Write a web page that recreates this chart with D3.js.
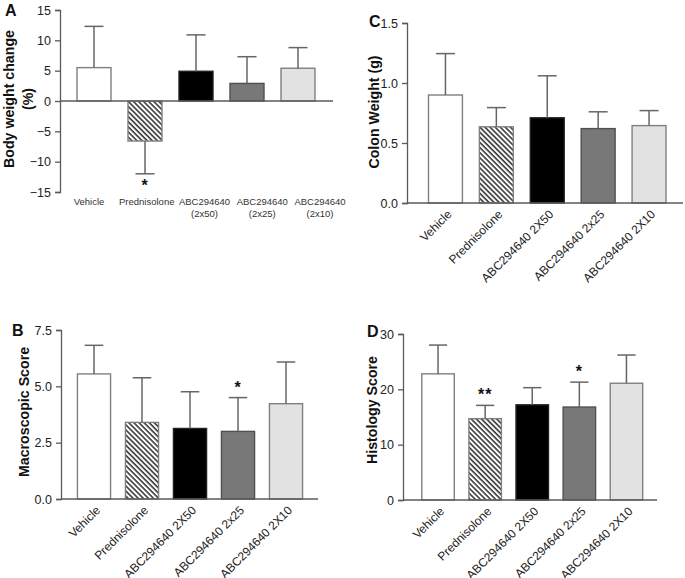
<!DOCTYPE html>
<html><head><meta charset="utf-8">
<script src="https://cdn.jsdelivr.net/npm/d3@7/dist/d3.min.js"></script>
<style>
body{margin:0;background:#fff;}
svg{display:block;font-family:"Liberation Sans",Arial,sans-serif;}
</style></head>
<body>
<svg id="chart" width="685" height="578"></svg>
<script>
// ---------- data ----------
const categories = ["Vehicle", "Prednisolone", "ABC294640 2X50", "ABC294640 2x25", "ABC294640 2X10"];
const labelsA = [["Vehicle"], ["Prednisolone"], ["ABC294640", "(2x50)"], ["ABC294640", "(2x25)"], ["ABC294640", "(2x10)"]];
const labelsRot = ["Vehicle", "Prednisolone", "ABC294640 2X50", "ABC294640 2x25", "ABC294640 2X10"];

const bodyWeightMean = [5.5, -6.6, 4.9, 2.9, 5.4];
const bodyWeightErr  = [12.3, -12.0, 10.9, 7.3, 8.8];
const bodyWeightSig  = ["", "*", "", "", ""];
const bodyWeightTicks = [-15, -10, -5, 0, 5, 10, 15];

const colonMean = [0.90, 0.635, 0.71, 0.62, 0.645];
const colonErr  = [1.245, 0.795, 1.06, 0.76, 0.77];
const colonSig  = ["", "", "", "", ""];
const colonTicks = [0, 0.5, 1.0, 1.5];

const macroMean = [5.55, 3.40, 3.13, 3.00, 4.23];
const macroErr  = [6.82, 5.38, 4.76, 4.50, 6.08];
const macroSig  = ["", "", "", "*", ""];
const macroTicks = [0, 2.5, 5.0, 7.5];

const histoMean = [22.8, 14.7, 17.2, 16.8, 21.1];
const histoErr  = [28.0, 17.1, 20.3, 21.3, 26.2];
const histoSig  = ["", "**", "", "*", ""];
const histoTicks = [0, 10, 20, 30];

// ---------- styles ----------
const fills = ["#ffffff", "url(#hatch)", "#000000", "#787878", "#e2e2e2"];
const strokes = ["#808080", "#808080", "#222222", "#505050", "#808080"];
const axisColor = "#5a5a5a";
const errColor = "#666666";

const svg = d3.select("#chart");
const defs = svg.append("defs");
const pat = defs.append("pattern").attr("id", "hatch").attr("patternUnits", "userSpaceOnUse")
  .attr("width", 3.6).attr("height", 3.6).attr("patternTransform", "rotate(-45)");
pat.append("rect").attr("width", 3.6).attr("height", 3.6).attr("fill", "#fff");
pat.append("line").attr("x1", 1).attr("y1", 0).attr("x2", 1).attr("y2", 3.6)
  .attr("stroke", "#2a2a2a").attr("stroke-width", 1.5);

function panel(cfg) {
  const g = svg.append("g");
  const y = d3.scaleLinear().domain(cfg.domain).range(cfg.yRange);
  const x = d3.scaleBand().domain(categories).range(cfg.xRange)
    .paddingInner(cfg.padIn).paddingOuter(cfg.padIn / 2);

  // y axis
  const ax = g.append("g").attr("transform", `translate(${cfg.axisX},0)`)
    .call(d3.axisLeft(y).tickValues(cfg.ticks).tickFormat(cfg.fmt).tickSize(5).tickPadding(4));
  ax.select(".domain").attr("stroke", axisColor).attr("stroke-width", 1.3);
  ax.selectAll(".tick line").attr("stroke", axisColor).attr("stroke-width", 1.3);
  ax.selectAll(".tick text").attr("fill", "#222").style("font-size", "12.5px")
    .style("font-family", "Liberation Sans, Arial, sans-serif");

  // bars
  const bw = x.bandwidth();
  g.selectAll("rect.bar").data(cfg.mean).join("rect").attr("class", "bar")
    .attr("x", (d, i) => x(categories[i]))
    .attr("y", d => y(Math.max(0, d)))
    .attr("width", bw)
    .attr("height", d => Math.abs(y(d) - y(0)))
    .attr("fill", (d, i) => fills[i])
    .attr("stroke", (d, i) => strokes[i]).attr("stroke-width", 1.4);

  // error bars
  const cap = bw * 0.28;
  cfg.err.forEach((e, i) => {
    const cx = x(categories[i]) + bw / 2;
    g.append("line").attr("x1", cx).attr("x2", cx).attr("y1", y(cfg.mean[i])).attr("y2", y(e))
      .attr("stroke", errColor).attr("stroke-width", 1.5);
    g.append("line").attr("x1", cx - cap).attr("x2", cx + cap).attr("y1", y(e)).attr("y2", y(e))
      .attr("stroke", errColor).attr("stroke-width", 1.5);
    if (cfg.sig[i]) {
      const below = e < 0;
      g.append("text").attr("x", cx).attr("y", below ? y(e) + 17 : y(e) - 5)
        .attr("text-anchor", "middle").attr("font-size", 16).attr("font-weight", "bold")
        .attr("fill", "#111").attr("letter-spacing", 1).text(cfg.sig[i]);
    }
  });

  // x axis line
  g.append("line").attr("x1", cfg.axisX).attr("x2", cfg.xEnd).attr("y1", y(0)).attr("y2", y(0))
    .attr("stroke", axisColor).attr("stroke-width", 1.3);

  // category labels
  if (cfg.flatLabels) {
    const lx = d3.scalePoint().domain(categories).range(cfg.flatRange);
    labelsA.forEach((lines, i) => {
      const t = g.append("text").attr("text-anchor", "middle").attr("font-size", 9.5).attr("fill", "#333");
      lines.forEach((ln, j) => {
        t.append("tspan").attr("x", lx(categories[i])).attr("y", cfg.flatY + j * 11.5).text(ln);
      });
    });
  } else {
    labelsRot.forEach((lab, i) => {
      const cx = x(categories[i]) + bw / 2;
      g.append("text").attr("text-anchor", "end").attr("font-size", 12).attr("fill", "#222")
        .attr("transform", `translate(${cx + 7},${y(0) + 12}) rotate(-45)`).text(lab);
    });
  }

  // y title
  cfg.title.forEach((t, j) => {
    g.append("text").attr("text-anchor", "middle").attr("font-size", 14.2).attr("font-weight", "bold")
      .attr("fill", "#111")
      .attr("transform", `translate(${cfg.titleX[j]},${cfg.titleY}) rotate(-90)`).text(t);
  });

  // panel letter
  g.append("text").attr("x", cfg.letterPos[0]).attr("y", cfg.letterPos[1])
    .attr("font-size", 16).attr("font-weight", "bold").attr("fill", "#111").text(cfg.letter);
}

panel({letter: "A", letterPos: [5, 16], domain: [-15, 15], yRange: [192, 10], ticks: bodyWeightTicks,
  fmt: d3.format("d"), axisX: 60, xRange: [68.5, 323.5], padIn: 1/3, xEnd: 333,
  mean: bodyWeightMean, err: bodyWeightErr, sig: bodyWeightSig,
  flatLabels: true, flatRange: [89, 320], flatY: 205,
  title: ["Body weight change", "(%)"], titleX: [14, 33], titleY: 99});

panel({letter: "C", letterPos: [369, 27], domain: [0, 1.5], yRange: [203, 23], ticks: colonTicks,
  fmt: d3.format(".1f"), axisX: 407, xRange: [420, 674.5], padIn: 1/3, xEnd: 683,
  mean: colonMean, err: colonErr, sig: colonSig,
  title: ["Colon Weight (g)"], titleX: [379], titleY: 112});

panel({letter: "B", letterPos: [12, 336], domain: [0, 7.5], yRange: [499, 330], ticks: macroTicks,
  fmt: d3.format(".1f"), axisX: 61, xRange: [70, 310], padIn: 0.31, xEnd: 318,
  mean: macroMean, err: macroErr, sig: macroSig,
  title: ["Macroscopic Score"], titleX: [29], titleY: 412});

panel({letter: "D", letterPos: [367, 337], domain: [0, 30], yRange: [500, 334], ticks: histoTicks,
  fmt: d3.format("d"), axisX: 403, xRange: [414.5, 650], padIn: 0.31, xEnd: 657,
  mean: histoMean, err: histoErr, sig: histoSig,
  title: ["Histology Score"], titleX: [377], titleY: 410});
</script>
</body></html>
